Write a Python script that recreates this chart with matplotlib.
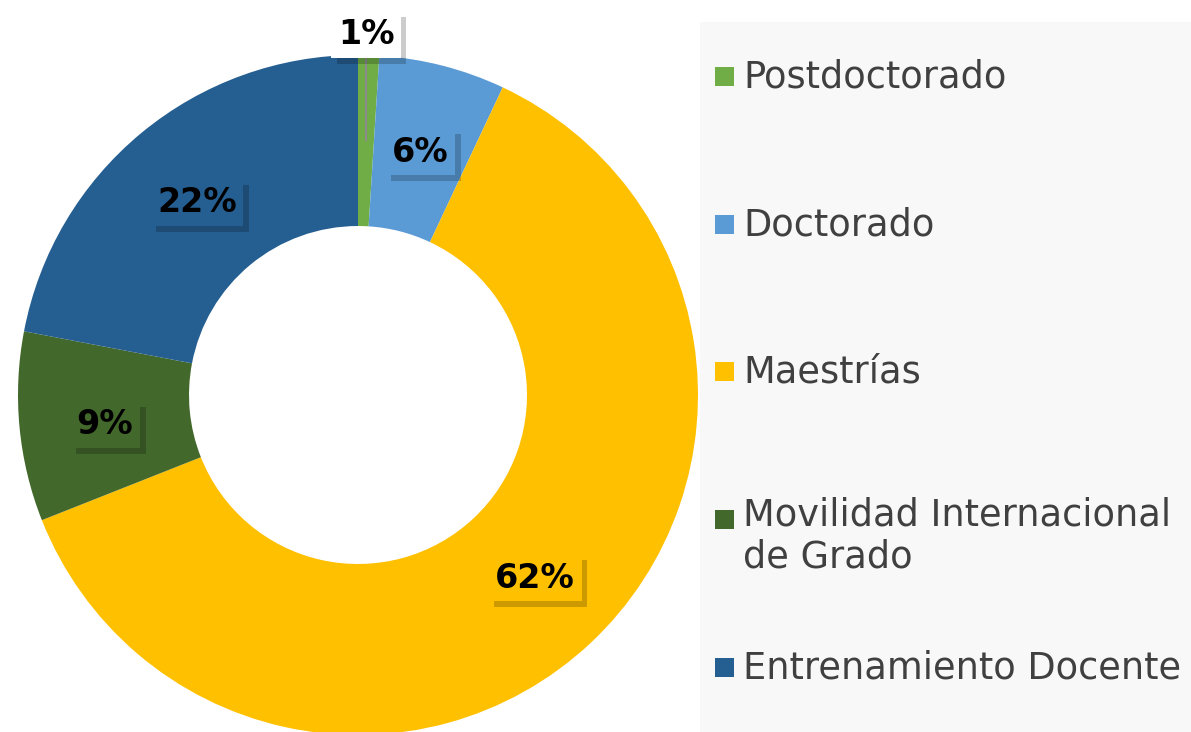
import matplotlib.pyplot as plt
import matplotlib.patheffects as pe
from matplotlib.patches import Rectangle
import numpy as np

categories = ['Postdoctorado', 'Doctorado', 'Maestrías',
              'Movilidad Internacional\nde Grado', 'Entrenamiento Docente']
values = [1, 6, 62, 9, 22]
labels = ['1%', '6%', '62%', '9%', '22%']
colors = ['#70AD47', '#5B9BD5', '#FFC000', '#43682B', '#255E91']

W, H = 1191, 732
fig = plt.figure(figsize=(W / 100, H / 100), dpi=100)
fig.patch.set_facecolor('white')

# donut axes: center (358, 395) px from top, radius 340 px
cx, cy, r = 358, 395, 340
ax = fig.add_axes([(cx - r) / W, (H - cy - r) / H, 2 * r / W, 2 * r / H])

wedges, _ = ax.pie(values, colors=colors, startangle=90, counterclock=False,
                   radius=1, wedgeprops=dict(width=0.503, edgecolor='none'))
ax.set_xlim(-1, 1)
ax.set_ylim(-1, 1)
ax.set_aspect('equal')
ax.axis('off')

shadow = [pe.SimplePatchShadow(offset=(4, -4), alpha=0.2, shadow_rgbFace='black'), pe.Normal()]
font = 'DejaVu Sans'

# label positions in pixels (from top-left)
label_px = [(366, 35), (420, 152), (535, 578), (105, 425), (197, 203)]
for i, (lab, (px, py)) in enumerate(zip(labels, label_px)):
    x = (px - cx) / r
    y = (cy - py) / r
    face = 'white' if i == 0 else colors[i]
    t = ax.text(x, y, lab, ha='center', va='center', fontsize=24, fontweight='bold',
                family=font, color='black', clip_on=False,
                bbox=dict(boxstyle='square,pad=0.2', facecolor=face, edgecolor='none'))
    t.get_bbox_patch().set_path_effects(shadow)

# leader line for the 1% slice
ax.plot([(366 - cx) / r, (366 - cx) / r], [(cy - 54) / r, (cy - 140) / r],
        color='#8c8c8c', lw=1.5, clip_on=False)

# legend panel
fig.patches.append(Rectangle((700 / W, 0), 491 / W, (H - 22) / H,
                             transform=fig.transFigure, facecolor='#f8f8f8',
                             edgecolor='none', zorder=0))
legend_y = [77, 225, 372, 520, 668]
for cat, col, ly in zip(categories, colors, legend_y):
    fig.patches.append(Rectangle((715 / W, (H - ly - 9) / H), 19 / W, 19 / H,
                                 transform=fig.transFigure, facecolor=col,
                                 edgecolor='none', zorder=1))
    if '\n' in cat:
        fig.text(743 / W, (H - ly + 24) / H, cat, ha='left', va='top',
                 fontsize=26.5, family=font, color='#404040', linespacing=1.18)
    else:
        fig.text(743 / W, (H - ly) / H, cat, ha='left', va='center',
                 fontsize=26.5, family=font, color='#404040')

fig.savefig('out.png', dpi=100)
